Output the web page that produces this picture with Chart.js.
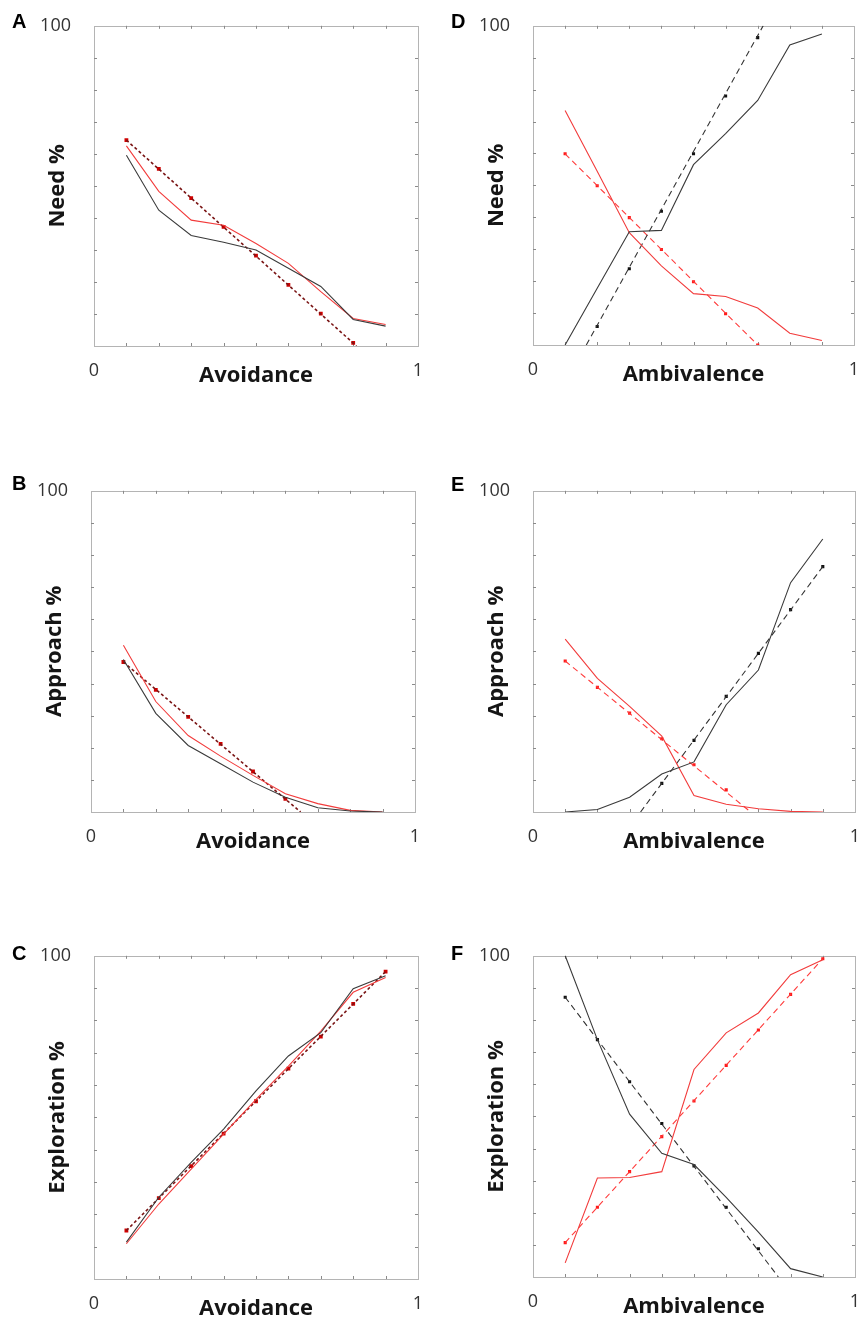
<!DOCTYPE html>
<html>
<head>
<meta charset="utf-8">
<script src="https://cdn.jsdelivr.net/npm/chart.js@4"></script>
<style>
  body { margin: 0; background: #fff; width: 868px; height: 1322px; overflow: hidden; position: relative; }
  .panel { position: absolute; }
  .tag { position: absolute; font: bold 20px "Liberation Sans", Arial, sans-serif; color: #000; }
</style>
</head>
<body>
<div class="panel" style="left:0;top:0"><canvas id="cA" width="434" height="465"></canvas></div>
<div class="panel" style="left:434px;top:0"><canvas id="cD" width="434" height="465"></canvas></div>
<div class="panel" style="left:0;top:465px"><canvas id="cB" width="434" height="465"></canvas></div>
<div class="panel" style="left:434px;top:465px"><canvas id="cE" width="434" height="465"></canvas></div>
<div class="panel" style="left:0;top:930px"><canvas id="cC" width="434" height="465"></canvas></div>
<div class="panel" style="left:434px;top:930px"><canvas id="cF" width="434" height="465"></canvas></div>
<div class="tag" style="left:12px;top:10px">A</div>
<div class="tag" style="left:451px;top:10px">D</div>
<div class="tag" style="left:12px;top:472px">B</div>
<div class="tag" style="left:451px;top:473px">E</div>
<div class="tag" style="left:12px;top:942px">C</div>
<div class="tag" style="left:451px;top:942px">F</div>
<script>
// valores de x (0.1 ... 0.9)
const xs = [0.1, 0.2, 0.3, 0.4, 0.5, 0.6, 0.7, 0.8, 0.9];

// A - Need % x Avoidance
const needAvoidBlack = [59.6, 42.4, 34.5, 32.4, 30.0, 24.3, 18.6, 8.3, 6.2];
const needAvoidRed = [62.5, 48.3, 39.3, 37.7, 32.0, 25.8, 17.0, 8.6, 6.7];
const needAvoidFit = [64.3, 55.3, 46.2, 37.2, 28.2, 19.1, 10.1, 1.0];
const needAvoidFitEnds = [[0.1, 64.3], [0.81, 0]];

// B - Approach % x Avoidance
const apprAvoidBlack = [47.5, 30.7, 20.7, 15.0, 9.3, 4.6, 1.3, 0.3, 0];
const apprAvoidRed = [51.9, 34.4, 23.8, 17.4, 11.4, 5.7, 2.6, 0.5, 0];
const apprAvoidFit = [46.7, 38.0, 29.6, 21.2, 12.6, 4.1];
const apprAvoidFitEnds = [[0.1, 46.7], [0.647, 0]];

// C - Exploration % x Avoidance
const explAvoidBlack = [11.4, 25.3, 36.1, 46.4, 58.2, 69.0, 76.2, 89.8, 93.8];
const explAvoidRed = [10.9, 23.2, 34.0, 44.8, 55.6, 65.9, 76.7, 88.7, 93.3];
const explAvoidFit = [15.0, 25.0, 34.9, 45.0, 55.0, 65.1, 75.0, 85.1, 95.1];
const explAvoidFitEnds = [[0.1, 15.0], [0.9, 95.1]];

// D - Need % x Ambivalence
const needAmbBlack = [0, 17.8, 35.5, 35.9, 56.5, 66.2, 76.6, 94.0, 97.4];
const needAmbRed = [73.5, 54.4, 35.2, 24.8, 16.1, 15.2, 11.6, 3.7, 1.4];
const needAmbFitRed = [59.9, 49.9, 39.9, 29.9, 19.8, 9.8, 0];
const needAmbFitRedEnds = [[0.1, 59.9], [0.7, 0]];
const needAmbFitBlack = [5.8, 23.9, 41.9, 59.9, 78.0, 96.3];
const needAmbFitBlackEnds = [[0.166, 0], [0.717, 100]];

// E - Approach % x Ambivalence
const apprAmbBlack = [0, 0.8, 4.6, 11.8, 15.6, 33.4, 44.2, 71.4, 85.0];
const apprAmbRed = [53.8, 41.6, 32.9, 23.6, 5.1, 2.4, 1.0, 0.2, 0];
const apprAmbFitRed = [47.0, 38.8, 30.8, 22.8, 14.7, 6.9];
const apprAmbFitRedEnds = [[0.1, 47.0], [0.676, 0]];
const apprAmbFitBlack = [8.9, 22.3, 36.0, 49.4, 63.0, 76.4];
const apprAmbFitBlackEnds = [[0.334, 0], [0.9, 76.4]];

// F - Exploration % x Ambivalence
const explAmbBlack = [100, 73.9, 50.7, 38.5, 35.0, 24.8, 14.0, 2.6, 0];
const explAmbRed = [4.4, 30.8, 31.0, 32.8, 64.6, 76.0, 82.2, 94.1, 98.8];
const explAmbFitRed = [10.7, 21.7, 32.8, 43.7, 54.8, 65.9, 76.9, 88.0, 99.1];
const explAmbFitRedEnds = [[0.1, 10.7], [0.9, 99.1]];
const explAmbFitBlack = [87.1, 73.9, 60.8, 47.8, 34.6, 21.7, 8.8];
const explAmbFitBlackEnds = [[0.1, 87.1], [0.762, 0]];

const FONT = '"Open Sans", "DejaVu Sans", sans-serif';
const BLACK = '#3a3a3a';
const RED = '#f23c3c';

function solid(ys, color) {
  return {
    data: ys.map((y, i) => ({ x: xs[i], y })),
    showLine: true, borderColor: color, borderWidth: 1.1, pointRadius: 0, tension: 0
  };
}

function fitLine(ends, color, dash, width) {
  return {
    data: ends.map(e => ({ x: e[0], y: e[1] })),
    showLine: true, borderColor: color, borderWidth: width || 1.1, borderDash: dash,
    pointRadius: 0
  };
}

function dots(ys, firstX, color, r) {
  const start = xs.indexOf(firstX);
  return {
    data: ys.map((y, i) => ({ x: xs[start + i], y })),
    showLine: false, pointRadius: r || 2.2, pointBackgroundColor: color,
    pointBorderWidth: 0, pointStyle: 'rect'
  };
}

// moldura e marcas internas dos eixos
const boxTicks = {
  id: 'boxTicks',
  beforeDatasetsDraw(chart) {
    const { ctx, chartArea: a, scales: { x, y } } = chart;
    ctx.save();
    ctx.strokeStyle = '#b4b4b4';
    ctx.lineWidth = 1;
    ctx.strokeRect(Math.round(a.left) + 0.5, Math.round(a.top) + 0.5,
      Math.round(a.right - a.left), Math.round(a.bottom - a.top));
    ctx.strokeStyle = '#8a8a8a';
    ctx.beginPath();
    x.ticks.forEach(t => {
      if (t.value <= 0.001 || t.value >= 0.999) return;
      const px = Math.round(x.getPixelForValue(t.value)) + 0.5;
      ctx.moveTo(px, a.top); ctx.lineTo(px, a.top + 3);
      ctx.moveTo(px, a.bottom); ctx.lineTo(px, a.bottom - 3);
    });
    y.ticks.forEach(t => {
      if (t.value <= 0 || t.value >= 100) return;
      const py = Math.round(y.getPixelForValue(t.value)) + 0.5;
      ctx.moveTo(a.left, py); ctx.lineTo(a.left + 3, py);
      ctx.moveTo(a.right, py); ctx.lineTo(a.right - 3, py);
    });
    ctx.stroke();
    ctx.restore();
  }
};

function makePanel(id, box, xTitle, yTitle, datasets) {
  const W = 434, H = 465, yW = 53, xH = 47;
  new Chart(document.getElementById(id), {
    type: 'scatter',
    data: { datasets },
    options: {
      responsive: false,
      animation: false,
      devicePixelRatio: 1,
      layout: { padding: { left: box.left - yW, right: W - box.right, top: 24, bottom: H - box.bottom - xH } },
      plugins: { legend: { display: false }, tooltip: { enabled: false } },
      scales: {
        x: {
          type: 'linear', min: 0, max: 1,
          grid: { display: false }, border: { display: false },
          ticks: {
            stepSize: 0.1, autoSkip: false, maxRotation: 0, padding: 6, color: '#333',
            font: { family: FONT, size: 18 },
            callback: v => (Math.abs(v) < 1e-9 ? '0' : (Math.abs(v - 1) < 1e-9 ? '1' : ''))
          },
          title: { display: true, text: xTitle, color: '#151515', font: { family: FONT, size: 22, weight: 'bold' }, padding: { top: 0, bottom: 4 } },
          afterFit: s => { s.height = xH; }
        },
        y: {
          min: 0, max: 100,
          grid: { display: false }, border: { display: false },
          ticks: {
            stepSize: 10, autoSkip: false, padding: 15, color: '#333',
            font: { family: FONT, size: 18 },
            callback: v => (v === 100 ? '100' : '')
          },
          title: { display: true, text: yTitle, color: '#151515', font: { family: FONT, size: 22, weight: 'bold' }, padding: { top: 4, bottom: 0 } },
          afterFit: s => { s.width = yW; }
        }
      }
    },
    plugins: [boxTicks]
  });
}

// painéis da esquerda: ajuste preto e vermelho sobrepostos
function leftFit(ends, fitYs) {
  return [
    fitLine(ends, '#7a1414', [3, 2.5], 1.6),
    dots(fitYs, 0.1, '#d00000', 2.7)
  ];
}

// A
makePanel('cA', { left: 94, right: 418, bottom: 346 }, 'Avoidance', 'Need %', [
  solid(needAvoidBlack, BLACK),
  solid(needAvoidRed, RED),
  ...leftFit(needAvoidFitEnds, needAvoidFit)
]);

// B
makePanel('cB', { left: 91, right: 415, bottom: 347 }, 'Avoidance', 'Approach %', [
  solid(apprAvoidBlack, BLACK),
  solid(apprAvoidRed, RED),
  ...leftFit(apprAvoidFitEnds, apprAvoidFit)
]);

// C
makePanel('cC', { left: 94, right: 418, bottom: 349 }, 'Avoidance', 'Exploration %', [
  solid(explAvoidBlack, BLACK),
  solid(explAvoidRed, RED),
  ...leftFit(explAvoidFitEnds, explAvoidFit)
]);

// D
makePanel('cD', { left: 99, right: 420, bottom: 345 }, 'Ambivalence', 'Need %', [
  solid(needAmbBlack, BLACK),
  solid(needAmbRed, RED),
  fitLine(needAmbFitBlackEnds, '#333', [6, 4]),
  fitLine(needAmbFitRedEnds, '#ff3b3b', [6, 4]),
  dots(needAmbFitBlack, 0.2, '#111'),
  dots(needAmbFitRed, 0.1, '#ff1a1a')
]);

// E
makePanel('cE', { left: 99, right: 421, bottom: 347 }, 'Ambivalence', 'Approach %', [
  solid(apprAmbBlack, BLACK),
  solid(apprAmbRed, RED),
  fitLine(apprAmbFitBlackEnds, '#333', [6, 4]),
  fitLine(apprAmbFitRedEnds, '#ff3b3b', [6, 4]),
  dots(apprAmbFitBlack, 0.4, '#111'),
  dots(apprAmbFitRed, 0.1, '#ff1a1a')
]);

// F
makePanel('cF', { left: 99, right: 421, bottom: 347 }, 'Ambivalence', 'Exploration %', [
  solid(explAmbBlack, BLACK),
  solid(explAmbRed, RED),
  fitLine(explAmbFitBlackEnds, '#333', [6, 4]),
  fitLine(explAmbFitRedEnds, '#ff3b3b', [6, 4]),
  dots(explAmbFitBlack, 0.1, '#111'),
  dots(explAmbFitRed, 0.1, '#ff1a1a')
]);
</script>
</body>
</html>
